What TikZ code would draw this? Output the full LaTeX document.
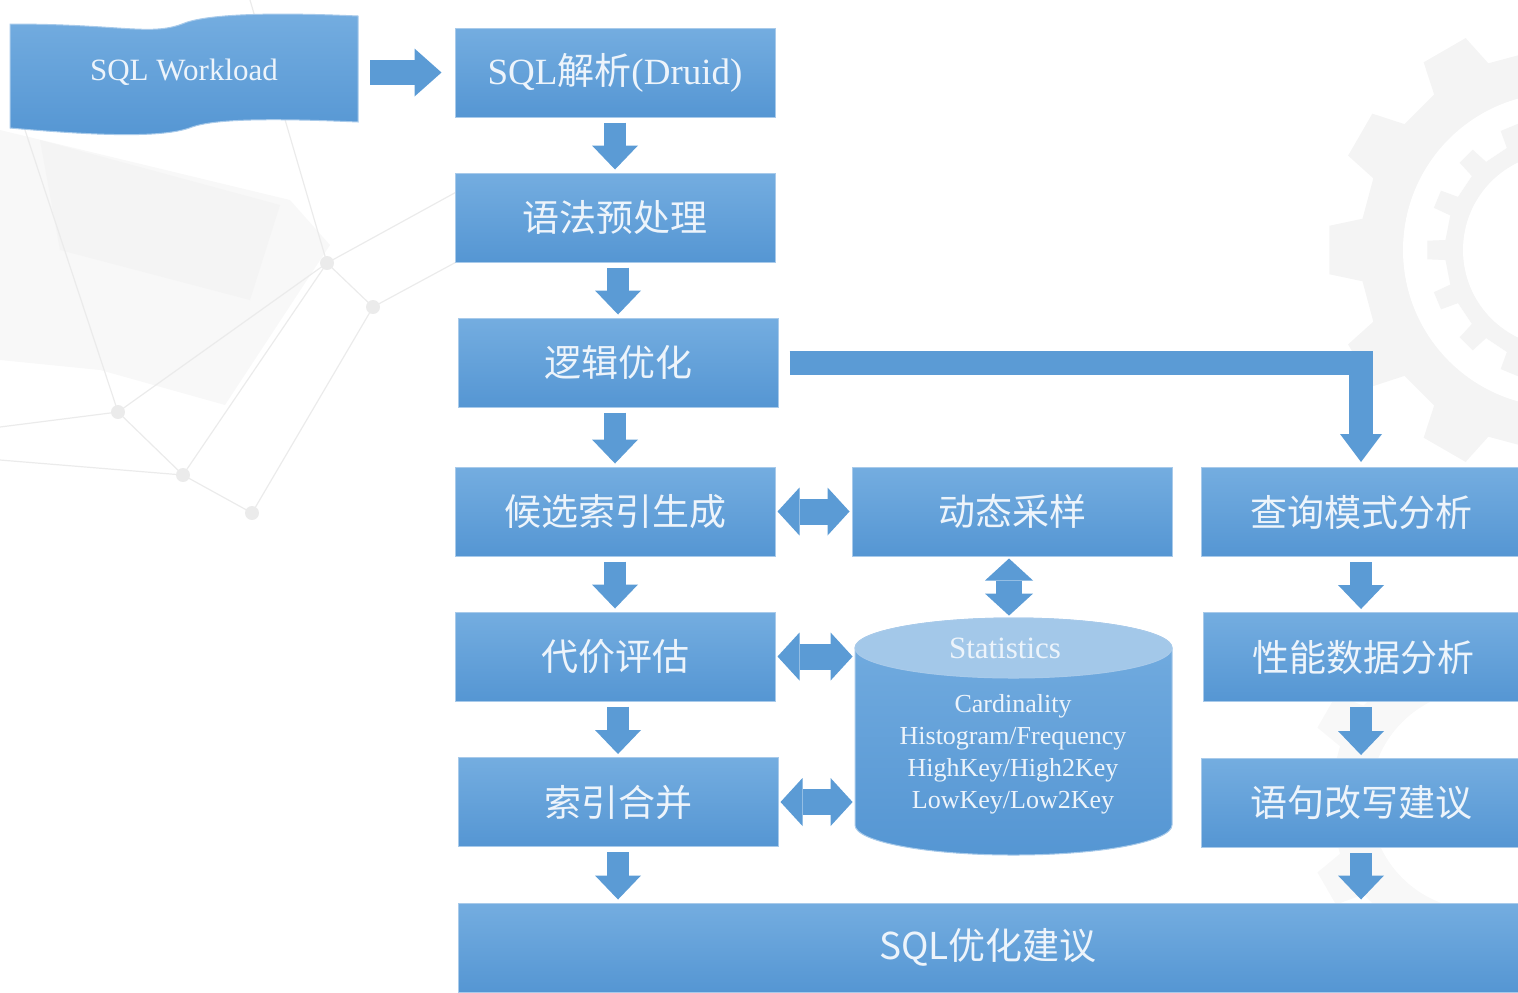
\documentclass[tikz,border=0pt]{standalone}
\usepackage{fontspec}
\setmainfont{Liberation Serif}
\newfontfamily\cjk{Noto Sans CJK SC}
\usetikzlibrary{arrows.meta,positioning}
\definecolor{boxtop}{HTML}{74ADE0}
\definecolor{boxbot}{HTML}{5596D3}
\definecolor{boxedge}{HTML}{A8CAEA}
\definecolor{flowblue}{HTML}{5B9BD5}
\definecolor{lidblue}{HTML}{A3C8E9}
\definecolor{txtwhite}{HTML}{EDF4FB}
\definecolor{bggray}{HTML}{F4F4F4}
\definecolor{bgpale}{HTML}{F8F8F8}
\definecolor{bgline}{HTML}{EBEBEB}
\newcommand\lat[1]{{\rmfamily #1}}
\tikzset{stepbox/.style={rectangle, draw=boxedge, line width=0.5pt, top color=boxtop, bottom color=boxbot,
    text=txtwhite, minimum width=160pt, minimum height=44.5pt, font=\cjk\fontsize{18.5}{20}\selectfont},
  flow/.style={draw=flowblue, line width=11pt, -{Triangle[width=23pt,length=12pt,line width=0pt]},
    shorten <=2.5pt, shorten >=1.5pt},
  both/.style={draw=flowblue, line width=13pt,
    {Triangle[width=24pt,length=11pt,line width=0pt]}-{Triangle[width=24pt,length=11pt,line width=0pt]},
    shorten <=1pt, shorten >=1pt}}

\begin{document}
\begin{tikzpicture}[x=0.5pt, y=-0.5pt]
		\clip (0,0) rectangle (1518,992);
		% background
		\fill[bgpale] (0,130) -- (290,200) -- (330,245) -- (225,405) -- (100,370) -- (0,360) -- cycle;
		\fill[bggray] (40,140) -- (280,205) -- (250,300) -- (60,250) -- cycle;
		\coordinate (d1) at (327,263);
		\coordinate (d2) at (373,307);
		\coordinate (d3) at (118,412);
		\coordinate (d4) at (183,475);
		\coordinate (d5) at (252,513);
		\draw[bgline, line width=0.6pt] (250,0) -- (d1) -- (d2) -- (d5) -- (d4) -- (d3) -- (d1)
			(d3) -- (25,130) (d3) -- (0,427) (d4) -- (0,460) (d2) -- (460,260) (d1) -- (460,190) (d4) -- (d1);
		\foreach \d in {d1,d2,d3,d4,d5} \fill[bgline] (\d) circle[radius=3.5pt];
		\begin{scope}[shift={(1560,250)}]
			\fill[bggray] (-9:200) \foreach \a in {0,30,...,330} { -- (\a-9:200) -- (\a-6:232) -- (\a+6:232) -- (\a+9:200) } -- cycle;
			\fill[white] (0,0) circle[radius=78.5pt];
			\fill[bggray] (-5:115) \foreach \a in {0,22.5,...,337.5} { -- (\a-5:115) -- (\a-4:133) -- (\a+4:133) -- (\a+5:115) } -- cycle;
			\fill[white] (0,0) circle[radius=48.5pt];
		\end{scope}
		\begin{scope}[shift={(1480,800)}]
			\fill[bgpale] (-9:150) \foreach \a in {0,30,...,330} { -- (\a-9:150) -- (\a-6:178) -- (\a+6:178) -- (\a+9:150) } -- cycle;
			\fill[white] (0,0) circle[radius=55pt];
		\end{scope}
		% workload tape
		\shade[top color=boxtop, bottom color=boxbot, draw=boxedge, line width=0.5pt]
			(10,24) .. controls (120,24) and (150,36) .. (182,24) .. controls (205,14) and (270,12) .. (358,16)
			-- (358,122) .. controls (270,118) and (215,119) .. (192,127) .. controls (165,138) and (100,136) .. (10,128) -- cycle;
		\node[text=txtwhite, font=\fontsize{15.5}{18}\selectfont, minimum width=174pt, minimum height=55pt] (workload) at (184,72.5) {SQL Workload};
		% main column
		\node[stepbox] (parse) at (615,72.5) {\lat{SQL}解析\lat{(Druid)}};
		\node[stepbox] (prep) at (615,217.5) {语法预处理};
		\node[stepbox] (logic) at (618,362.5) {逻辑优化};
		\node[stepbox] (cand) at (615,511.5) {候选索引生成};
		\node[stepbox] (cost) at (615,656.5) {代价评估};
		\node[stepbox] (merge) at (618,802) {索引合并};
		\node[stepbox, minimum width=530pt] (advice) at (988,947.5) {SQL优化建议};
		% sampling and statistics
		\node[stepbox] (sample) at (1012,511.5) {动态采样};
		\shade[top color=boxtop, bottom color=boxbot, draw=boxedge, line width=0.5pt]
			(855,648) -- (855,825) arc[start angle=180, end angle=360, x radius=79.25pt, y radius=15pt]
			-- (1172,648) arc[start angle=0, end angle=180, x radius=79.25pt, y radius=15pt] -- cycle;
		\fill[lidblue, draw=boxedge, line width=0.5pt] (1013.5,648) ellipse[x radius=79.25pt, y radius=15pt];
		\node[minimum width=158.5pt, minimum height=118.5pt] (stats) at (1013.5,736.5) {};
		\node[text=txtwhite, font=\fontsize{15.5}{18}\selectfont] (statshead) at (1005,648) {Statistics};
		\node[text=txtwhite, font=\fontsize{13}{16}\selectfont, align=center] (statsbody) at (1013,754)
			{Cardinality\\Histogram/Frequency\\HighKey/High2Key\\LowKey/Low2Key};
		% right column
		\node[stepbox] (query) at (1361,512) {查询模式分析};
		\node[stepbox] (perf) at (1363,657) {性能数据分析};
		\node[stepbox] (rewrite) at (1361,803) {语句改写建议};
		% arrows
		\draw[flow, line width=12.5pt, -{Triangle[width=24pt,length=13.5pt,line width=0pt]}, shorten <=6pt, shorten >=6.5pt]
			(workload.east |- parse.west) -- (parse.west);
		\draw[flow] (parse.south) -- (prep.north);
		\draw[flow] (prep.south -| logic) -- (logic.north);
		\draw[flow] (logic.south -| cand) -- (cand.north);
		\draw[flow] (cand.south) -- (cost.north);
		\draw[flow] (cost.south -| merge) -- (merge.north);
		\draw[flow] (merge.south) -- (merge.south |- advice.north);
		\draw[flow, line width=12pt, -{Triangle[width=21pt,length=14pt,line width=0pt]}, line join=miter, shorten <=5.5pt, shorten >=2.5pt]
			(logic.east) -| (query.north);
		\draw[both] (cand.east) -- (sample.west);
		\draw[both] (sample.south -| 1009,0) -- (stats.north -| 1009,0);
		\draw[both] (cost.east) -- (cost.east -| stats.west);
		\draw[both] (merge.east) -- (merge.east -| stats.west);
		\draw[flow] (query.south) -- (query.south |- perf.north);
		\draw[flow] (perf.south -| rewrite) -- (rewrite.north);
		\draw[flow] (rewrite.south) -- (rewrite.south |- advice.north);
\end{tikzpicture}
\end{document}
